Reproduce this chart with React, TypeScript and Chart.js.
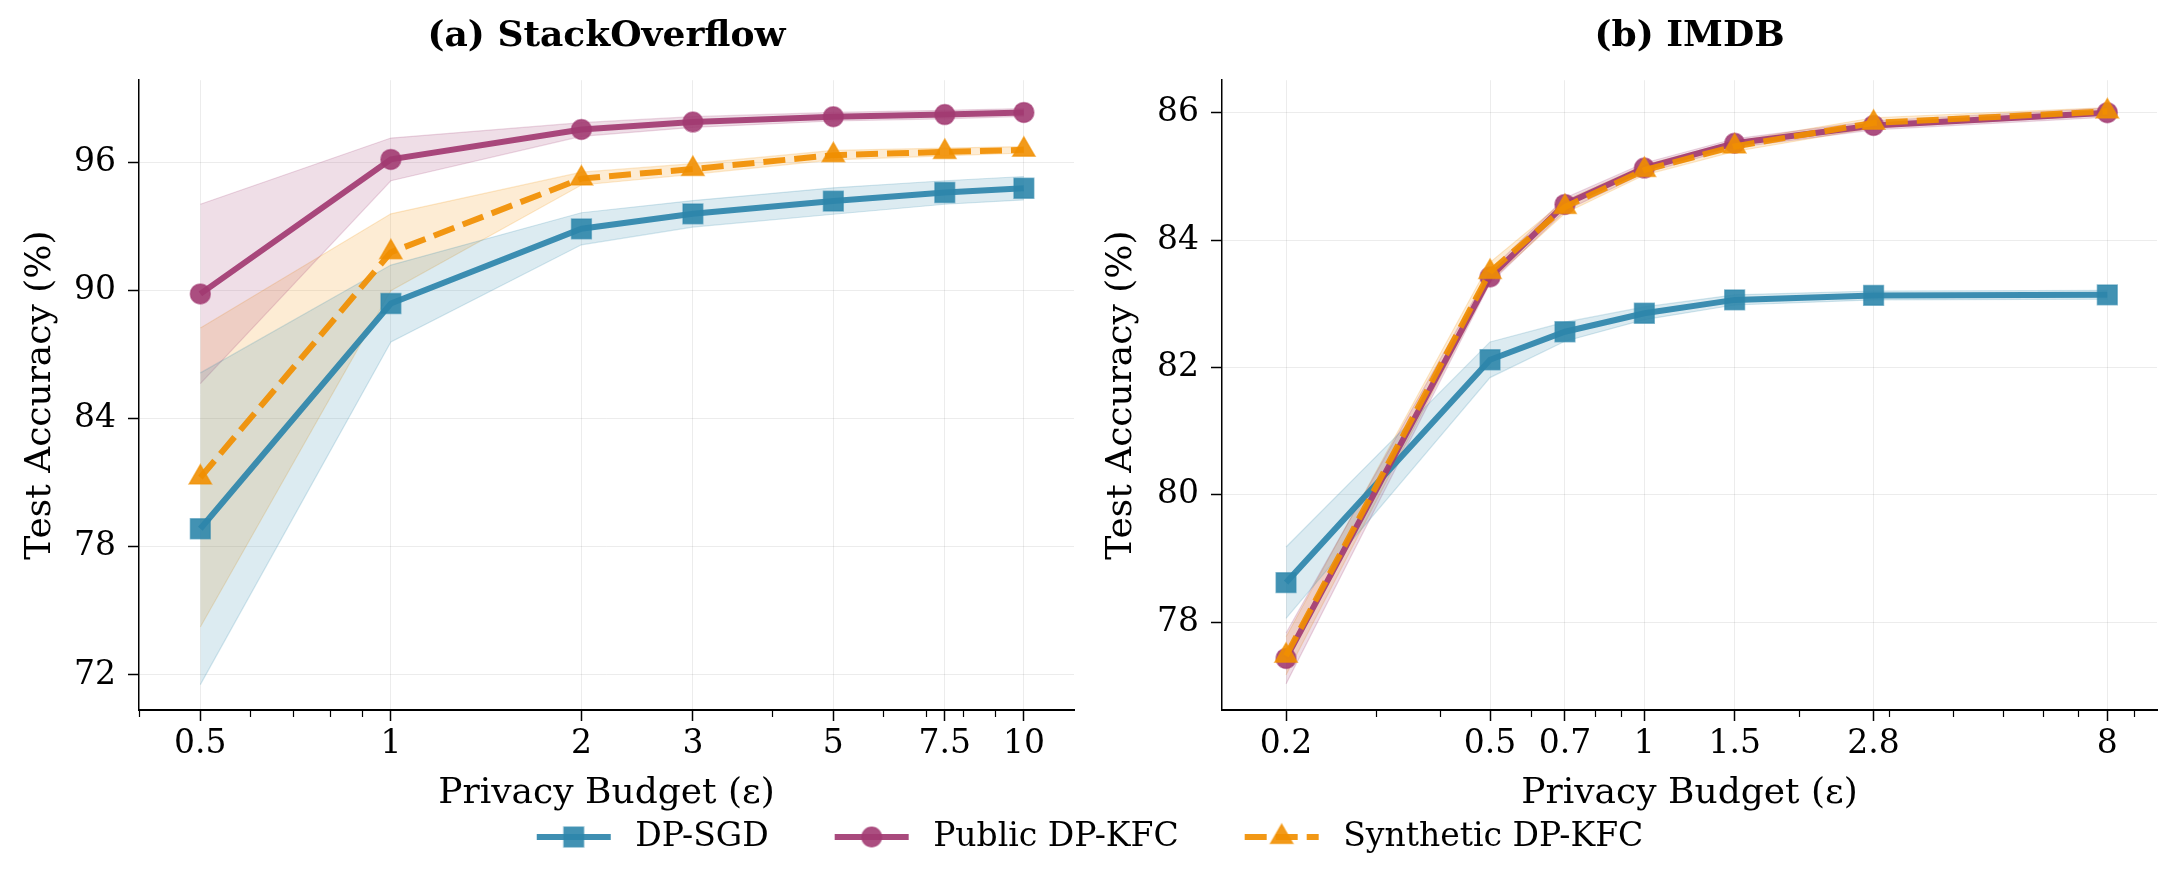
import React, { useEffect, useRef } from 'react';
import { Chart, registerables } from 'chart.js';

Chart.register(...registerables);

// ---------------- Data ----------------
const seriesNames = ['DP-SGD', 'Public DP-KFC', 'Synthetic DP-KFC'];

// (a) StackOverflow
const soEpsilon = [0.5, 1, 2, 3, 5, 7.5, 10];
const soXTicks = [0.5, 1, 2, 3, 5, 7.5, 10];
const soXTickLabels = ['0.5', '1', '2', '3', '5', '7.5', '10'];
const soMinorTicks = [0.4, 0.6, 0.7, 0.8, 0.9, 4, 6, 7, 8, 9];
const soYTicks = [72, 78, 84, 90, 96];
const soDpSgd = [78.85, 89.4, 92.9, 93.6, 94.2, 94.6, 94.8];
const soDpSgdStd = [7.3, 1.8, 0.75, 0.62, 0.62, 0.55, 0.55];
const soPublic = [89.85, 96.15, 97.55, 97.9, 98.15, 98.25, 98.35];
const soPublicStd = [4.2, 1.0, 0.32, 0.25, 0.2, 0.2, 0.18];
const soSynthetic = [81.25, 91.8, 95.25, 95.7, 96.35, 96.5, 96.6];
const soSyntheticStd = [7.0, 1.8, 0.3, 0.25, 0.22, 0.18, 0.15];

// (b) IMDB
const imdbEpsilon = [0.2, 0.5, 0.7, 1, 1.5, 2.8, 8];
const imdbXTicks = [0.2, 0.5, 0.7, 1, 1.5, 2.8, 8];
const imdbXTickLabels = ['0.2', '0.5', '0.7', '1', '1.5', '2.8', '8'];
const imdbMinorTicks = [0.3, 0.4, 0.6, 0.8, 0.9, 2, 3, 4, 5, 6, 7, 9];
const imdbYTicks = [78, 80, 82, 84, 86];
const imdbDpSgd = [78.62, 82.12, 82.56, 82.85, 83.06, 83.13, 83.14];
const imdbDpSgdStd = [0.56, 0.28, 0.15, 0.1, 0.08, 0.07, 0.07];
const imdbPublic = [77.43, 83.42, 84.56, 85.13, 85.52, 85.8, 86.0];
const imdbPublicStd = [0.4, 0.1, 0.1, 0.08, 0.07, 0.07, 0.07];
const imdbSynthetic = [77.47, 83.5, 84.52, 85.1, 85.47, 85.84, 86.02];
const imdbSyntheticStd = [0.3, 0.15, 0.1, 0.08, 0.08, 0.08, 0.06];

// ---------------- Styles ----------------
const FONT = "'DejaVu Serif', serif";
const GRID = 'rgba(0,0,0,0.075)';
const STYLES = [
  { rgb: [46, 134, 171], pointStyle: 'rect', radius: 14, dash: [] as number[], order: 3 },
  { rgb: [162, 59, 114], pointStyle: 'circle', radius: 10, dash: [] as number[], order: 2 },
  { rgb: [241, 143, 1], pointStyle: 'triangle', radius: 13, dash: [22, 9], order: 1 },
];

const rgba = (c: number[], a: number) => `rgba(${c[0]},${c[1]},${c[2]},${a})`;

const minorTickPlugin = {
  id: 'minorTicks',
  afterDraw(chart: any, _args: any, opts: any) {
    const sc = chart.scales.x;
    const ctx = chart.ctx;
    const bottom = chart.chartArea.bottom;
    ctx.save();
    ctx.strokeStyle = '#000';
    ctx.lineWidth = 1.2;
    (opts.values || []).forEach((v: number) => {
      if (v < sc.min || v > sc.max) return;
      const px = Math.round(sc.getPixelForValue(v)) + 0.5;
      ctx.beginPath();
      ctx.moveTo(px, bottom);
      ctx.lineTo(px, bottom + 7);
      ctx.stroke();
    });
    ctx.restore();
  },
};

interface PanelSpec {
  title: string;
  x: number[];
  means: number[][];
  stds: number[][];
  xTicks: number[];
  xLabels: string[];
  minor: number[];
  yTicks: number[];
  xMin: number;
  xMax: number;
  yMin: number;
  yMax: number;
  yWidth: number;
  padRight: number;
  yTitlePad: number;
}

function makePanelConfig(p: PanelSpec): any {
  const datasets: any[] = [];
  p.means.forEach((mean, si) => {
    const st = STYLES[si];
    const std = p.stds[si];
    datasets.push({
      label: seriesNames[si] + ' upper',
      data: p.x.map((x, i) => ({ x, y: mean[i] + std[i] })),
      borderColor: rgba(st.rgb, 0.2),
      borderWidth: 1.2,
      pointRadius: 0,
      fill: false,
      order: 10,
      tension: 0,
    });
    datasets.push({
      label: seriesNames[si] + ' lower',
      data: p.x.map((x, i) => ({ x, y: mean[i] - std[i] })),
      borderColor: rgba(st.rgb, 0.2),
      backgroundColor: rgba(st.rgb, 0.17),
      borderWidth: 1.2,
      pointRadius: 0,
      fill: '-1',
      order: 10,
      tension: 0,
    });
  });
  p.means.forEach((mean, si) => {
    const st = STYLES[si];
    datasets.push({
      label: seriesNames[si],
      data: p.x.map((x, i) => ({ x, y: mean[i] })),
      borderColor: rgba(st.rgb, 0.92),
      backgroundColor: rgba(st.rgb, 0.92),
      borderWidth: 6,
      borderDash: st.dash,
      pointStyle: st.pointStyle,
      pointRadius: st.radius,
      pointBackgroundColor: rgba(st.rgb, 0.9),
      pointBorderColor: rgba(st.rgb, 0.55),
      pointBorderWidth: 1.5,
      fill: false,
      order: st.order,
      tension: 0,
    });
  });

  const tickFont = { family: FONT, size: 33 };
  const labelFont = { family: FONT, size: 36, lineHeight: 1.2 };

  return {
    type: 'line',
    data: { datasets },
    plugins: [minorTickPlugin],
    options: {
      responsive: false,
      animation: false,
      events: [],
      layout: { padding: { left: 0, right: p.padRight, top: 0, bottom: 77 } },
      plugins: {
        legend: { display: false },
        tooltip: { enabled: false },
        title: {
          display: true,
          text: p.title,
          fullSize: false,
          color: '#000',
          font: { family: FONT, size: 36, weight: 'bold', lineHeight: 1.2 },
          padding: { top: 15, bottom: 22 },
        },
        minorTicks: { values: p.minor },
      },
      scales: {
        x: {
          type: 'logarithmic',
          min: p.xMin,
          max: p.xMax,
          afterBuildTicks: (s: any) => {
            s.ticks = p.xTicks.map((v) => ({ value: v }));
          },
          afterFit: (s: any) => {
            s.height = 105;
          },
          ticks: {
            autoSkip: false,
            maxRotation: 0,
            minRotation: 0,
            padding: 4,
            color: '#000',
            font: tickFont,
            callback: (_v: any, i: number) => p.xLabels[i],
          },
          grid: { color: GRID, lineWidth: 1, tickColor: '#000', tickLength: 11, tickWidth: 1.5, drawTicks: true },
          border: { display: true, color: '#000', width: 2 },
          title: {
            display: true,
            text: 'Privacy Budget (ε)',
            color: '#000',
            font: labelFont,
            padding: { top: 0, bottom: 0 },
          },
        },
        y: {
          type: 'linear',
          min: p.yMin,
          max: p.yMax,
          afterBuildTicks: (s: any) => {
            s.ticks = p.yTicks.map((v) => ({ value: v }));
          },
          afterFit: (s: any) => {
            s.width = p.yWidth;
          },
          ticks: {
            padding: 12,
            color: '#000',
            font: tickFont,
            callback: (v: any) => String(v),
          },
          grid: { color: GRID, lineWidth: 1, tickColor: '#000', tickLength: 11, tickWidth: 1.5, drawTicks: true },
          border: { display: true, color: '#000', width: 1.5 },
          title: {
            display: true,
            text: 'Test Accuracy (%)',
            color: '#000',
            font: labelFont,
            padding: { top: p.yTitlePad, bottom: 0 },
          },
        },
      },
    },
  };
}

function makeHandle(si: number): HTMLCanvasElement {
  const st = STYLES[si];
  const c = document.createElement('canvas');
  c.width = 138;
  c.height = 34;
  const ctx = c.getContext('2d')!;
  const x0 = 56;
  const x1 = 130;
  const cy = 17;
  const cx = (x0 + x1) / 2;
  ctx.strokeStyle = rgba(st.rgb, 0.92);
  ctx.lineWidth = 6;
  ctx.setLineDash(st.dash);
  ctx.beginPath();
  ctx.moveTo(x0, cy);
  ctx.lineTo(x1, cy);
  ctx.stroke();
  ctx.setLineDash([]);
  ctx.fillStyle = rgba(st.rgb, 0.9);
  ctx.strokeStyle = rgba(st.rgb, 0.55);
  ctx.lineWidth = 1.5;
  ctx.beginPath();
  const r = st.radius;
  if (st.pointStyle === 'rect') {
    const h = r * Math.SQRT1_2;
    ctx.rect(cx - h, cy - h, 2 * h, 2 * h);
  } else if (st.pointStyle === 'circle') {
    ctx.arc(cx, cy, r, 0, Math.PI * 2);
  } else {
    for (let k = 0; k < 3; k++) {
      const a = (k * 2 * Math.PI) / 3;
      const px = cx + Math.sin(a) * r;
      const py = cy - Math.cos(a) * r;
      if (k === 0) ctx.moveTo(px, py);
      else ctx.lineTo(px, py);
    }
    ctx.closePath();
  }
  ctx.fill();
  ctx.stroke();
  return c;
}

function makeLegendConfig(): any {
  const handles = seriesNames.map((_n, i) => makeHandle(i));
  return {
    type: 'line',
    data: { datasets: seriesNames.map((n) => ({ label: n, data: [] })) },
    options: {
      responsive: false,
      animation: false,
      events: [],
      layout: { padding: { top: 38.5, right: 56, left: 0, bottom: 0 } },
      scales: { x: { display: false }, y: { display: false } },
      plugins: {
        tooltip: { enabled: false },
        title: { display: false },
        legend: {
          display: true,
          position: 'top',
          align: 'center',
          labels: {
            usePointStyle: true,
            pointStyleWidth: 138,
            boxHeight: 33,
            padding: 10,
            color: '#000',
            font: { family: FONT, size: 33 },
            generateLabels: () =>
              seriesNames.map((n, i) => ({
                text: n,
                pointStyle: handles[i],
                fillStyle: 'rgba(0,0,0,0)',
                strokeStyle: 'rgba(0,0,0,0)',
                lineWidth: 0,
                hidden: false,
                datasetIndex: i,
                fontColor: '#000',
              })),
          },
        },
      },
    },
  };
}

export default function App() {
  const leftRef = useRef<HTMLCanvasElement>(null);
  const rightRef = useRef<HTMLCanvasElement>(null);
  const legendRef = useRef<HTMLCanvasElement>(null);

  useEffect(() => {
    Chart.defaults.font.family = FONT;
    Chart.defaults.color = '#000';
    const left = new Chart(
      leftRef.current!,
      makePanelConfig({
        title: '(a) StackOverflow',
        x: soEpsilon,
        means: [soDpSgd, soPublic, soSynthetic],
        stds: [soDpSgdStd, soPublicStd, soSyntheticStd],
        xTicks: soXTicks,
        xLabels: soXTickLabels,
        minor: soMinorTicks,
        yTicks: soYTicks,
        xMin: 0.4,
        xMax: 12,
        yMin: 70.36,
        yMax: 99.86,
        yWidth: 139,
        padRight: 16,
        yTitlePad: 19,
      })
    );
    const right = new Chart(
      rightRef.current!,
      makePanelConfig({
        title: '(b) IMDB',
        x: imdbEpsilon,
        means: [imdbDpSgd, imdbPublic, imdbSynthetic],
        stds: [imdbDpSgdStd, imdbPublicStd, imdbSyntheticStd],
        xTicks: imdbXTicks,
        xLabels: imdbXTickLabels,
        minor: imdbMinorTicks,
        yTicks: imdbYTicks,
        xMin: 0.15,
        xMax: 10,
        yMin: 76.62,
        yMax: 86.51,
        yWidth: 132,
        padRight: 23,
        yTitlePad: 10,
      })
    );
    const legend = new Chart(legendRef.current!, makeLegendConfig());
    return () => {
      left.destroy();
      right.destroy();
      legend.destroy();
    };
  }, []);

  return (
    <div
      style={{
        position: 'absolute',
        left: 0,
        top: 0,
        width: 2180,
        height: 892,
        overflow: 'hidden',
        background: '#fff',
      }}
    >
      <canvas ref={leftRef} width={1090} height={892} style={{ position: 'absolute', left: 0, top: 0 }} />
      <canvas ref={rightRef} width={1090} height={892} style={{ position: 'absolute', left: 1090, top: 0 }} />
      <canvas ref={legendRef} width={2180} height={200} style={{ position: 'absolute', left: 0, top: 772 }} />
    </div>
  );
}
